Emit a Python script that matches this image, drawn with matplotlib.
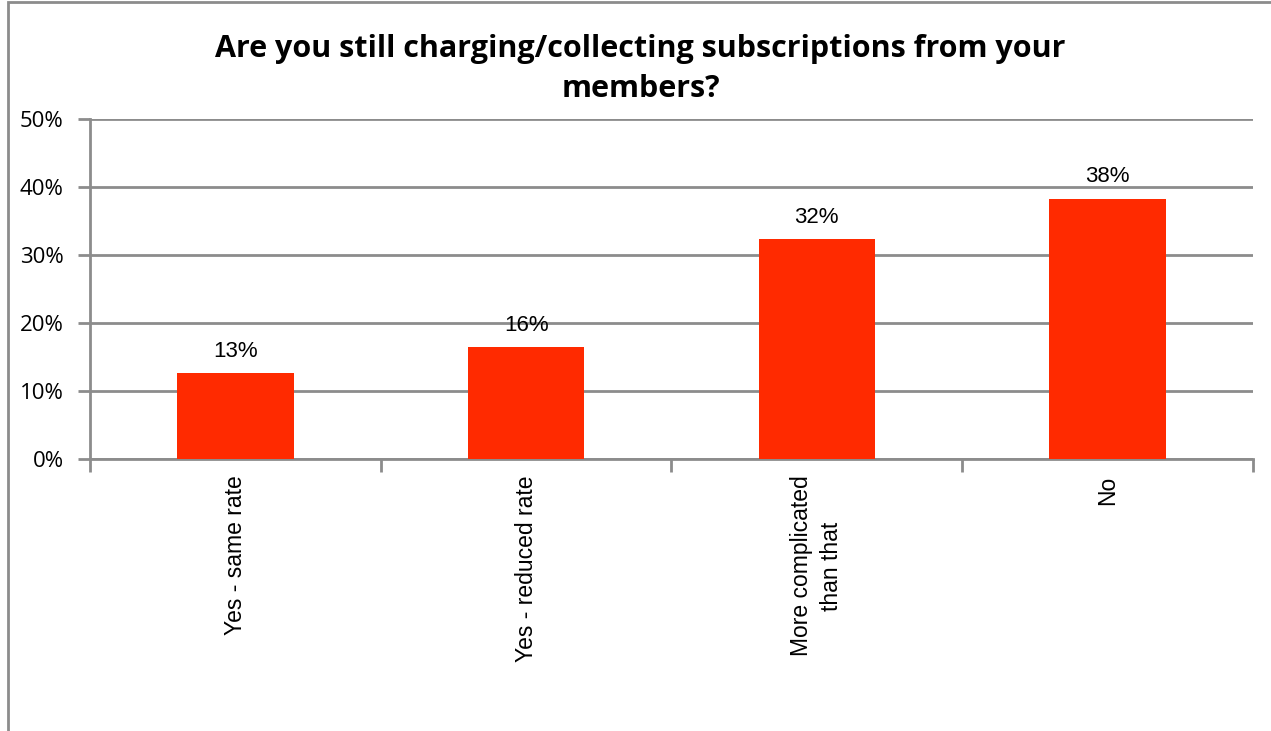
import matplotlib.pyplot as plt
from matplotlib.patches import Rectangle

kategorien = ['Yes - same rate', 'Yes - reduced rate', 'More complicated\nthan that', 'No']
werte = [12.6, 16.4, 32.4, 38.3]
beschriftung = ['13%', '16%', '32%', '38%']
y_ticks = [0, 10, 20, 30, 40, 50]

rot = '#ff2a00'
grau = '#8c8c8c'

fig = plt.figure(figsize=(12.71, 7.31), dpi=100)
ax = fig.add_axes([0.0708, 0.3721, 0.915, 0.4651])

# Rahmen um die Grafik (links und oben sichtbar)
fig.patches.append(Rectangle((8/1271, -0.1), 1.2, 1 - 2/731 + 0.1, transform=fig.transFigure,
                             fill=False, edgecolor=grau, linewidth=2))

x = list(range(len(kategorien)))
ax.bar(x, werte, width=0.4, color=rot, zorder=3)
for xi, w, t in zip(x, werte, beschriftung):
    ax.annotate(t, (xi, w), xytext=(0, 8), textcoords='offset points', ha='center', va='bottom',
                fontsize=16, family='Liberation Sans')

ax.set_xlim(-0.5, len(kategorien) - 0.5)
ax.set_ylim(0, 50)
ax.set_yticks(y_ticks)
ax.set_yticklabels([f'{v}%' for v in y_ticks], fontsize=16, family='Open Sans')
ax.yaxis.grid(True, color=grau, linewidth=2, zorder=0)
ax.set_axisbelow(True)

ax.set_xticks(x)
ax.set_xticklabels(kategorien, rotation=90, fontsize=16.5, family='Liberation Sans', va='top',
                   linespacing=1.4)
ax.tick_params(axis='x', length=0, pad=12)
ax.set_xticks([i - 0.5 for i in range(len(kategorien) + 1)], minor=True)
ax.tick_params(axis='x', which='minor', length=9, width=2, color=grau)
ax.tick_params(axis='y', length=9, width=2, color=grau, pad=10)

for s in ['top', 'right']:
    ax.spines[s].set_visible(False)
for s in ['left', 'bottom']:
    ax.spines[s].set_color(grau)
    ax.spines[s].set_linewidth(2)

fig.text(0.504, 0.906, 'Are you still charging/collecting subscriptions from your\nmembers?',
         ha='center', va='center', fontsize=22, fontweight='bold', family='Open Sans', linespacing=1.45)

plt.savefig('out.png', dpi=100)
